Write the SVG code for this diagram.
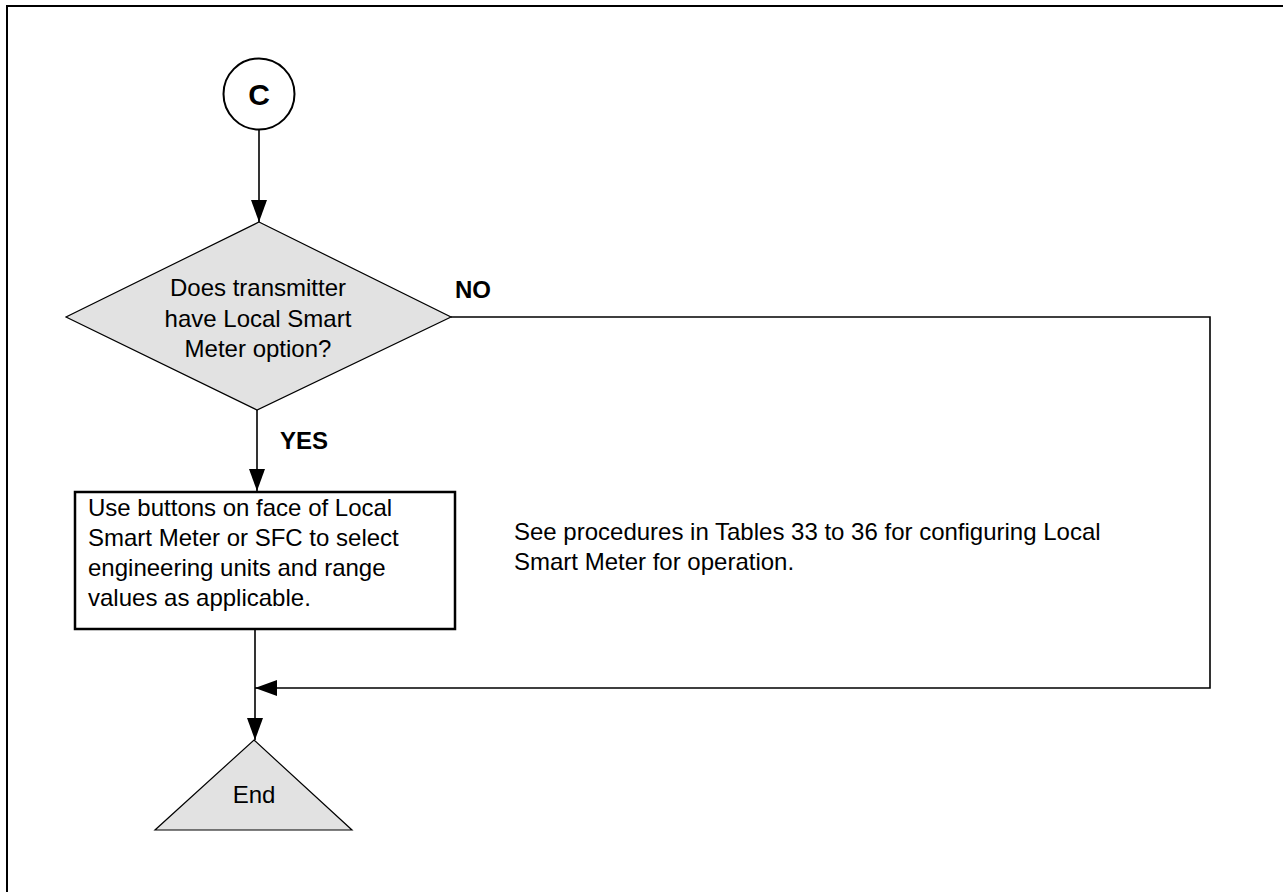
<svg xmlns="http://www.w3.org/2000/svg" width="1283" height="892" viewBox="0 0 1283 892">
<style>
.t{font-family:"Liberation Sans",Arial,sans-serif;font-size:24px;fill:#000}
.b{font-weight:bold}
.c{stroke:#000;stroke-width:1.6;fill:none}
.shape{fill:#e2e2e2;stroke:#000;stroke-width:1.2}
</style>
<defs>
<marker id="ah" viewBox="0 0 22 16" refX="22" refY="8" markerWidth="22" markerHeight="16" markerUnits="userSpaceOnUse" orient="auto">
<path d="M0,0 L22,8 L0,16 Z" fill="#000"/>
</marker>
</defs>
<rect width="1283" height="892" fill="#fff"/>
<path d="M7,900 V6 H1283" fill="none" stroke="#000" stroke-width="2"/>
<g id="start">
<circle cx="259" cy="94" r="35.5" fill="#fff" stroke="#000" stroke-width="2"/>
<text class="t b" x="259" y="105" text-anchor="middle" style="font-size:30px">C</text>
</g>
<g id="decision">
<polygon class="shape" points="259,222 451,317 257,410 66,317"/>
<text class="t" text-anchor="middle"><tspan x="258" y="296">Does transmitter</tspan><tspan x="258" y="327">have Local Smart</tspan><tspan x="258" y="357">Meter option?</tspan></text>
</g>
<g id="action">
<rect x="75" y="492" width="380" height="137" fill="#fff" stroke="#000" stroke-width="2.5"/>
<text class="t"><tspan x="88" y="516">Use buttons on face of Local</tspan><tspan x="88" y="546">Smart Meter or SFC to select</tspan><tspan x="88" y="576">engineering units and range</tspan><tspan x="88" y="606">values as applicable.</tspan></text>
</g>
<g id="note">
<text class="t"><tspan x="514" y="540">See procedures in Tables 33 to 36 for configuring Local</tspan><tspan x="514" y="570">Smart Meter for operation.</tspan></text>
</g>
<g id="end">
<polygon class="shape" points="254,740 352,830 155,830"/>
<text class="t" x="254" y="803" text-anchor="middle">End</text>
</g>
<g id="connectors">
<line class="c" x1="259" y1="130" x2="259" y2="222" marker-end="url(#ah)"/>
<line class="c" x1="257" y1="410" x2="257" y2="491" marker-end="url(#ah)"/>
<line class="c" x1="255" y1="629" x2="255" y2="740" marker-end="url(#ah)"/>
<polyline class="c" points="451,317 1210,317 1210,688 255,688" marker-end="url(#ah)"/>
<text class="t b" x="455" y="298">NO</text>
<text class="t b" x="280" y="449">YES</text>
</g>
</svg>
